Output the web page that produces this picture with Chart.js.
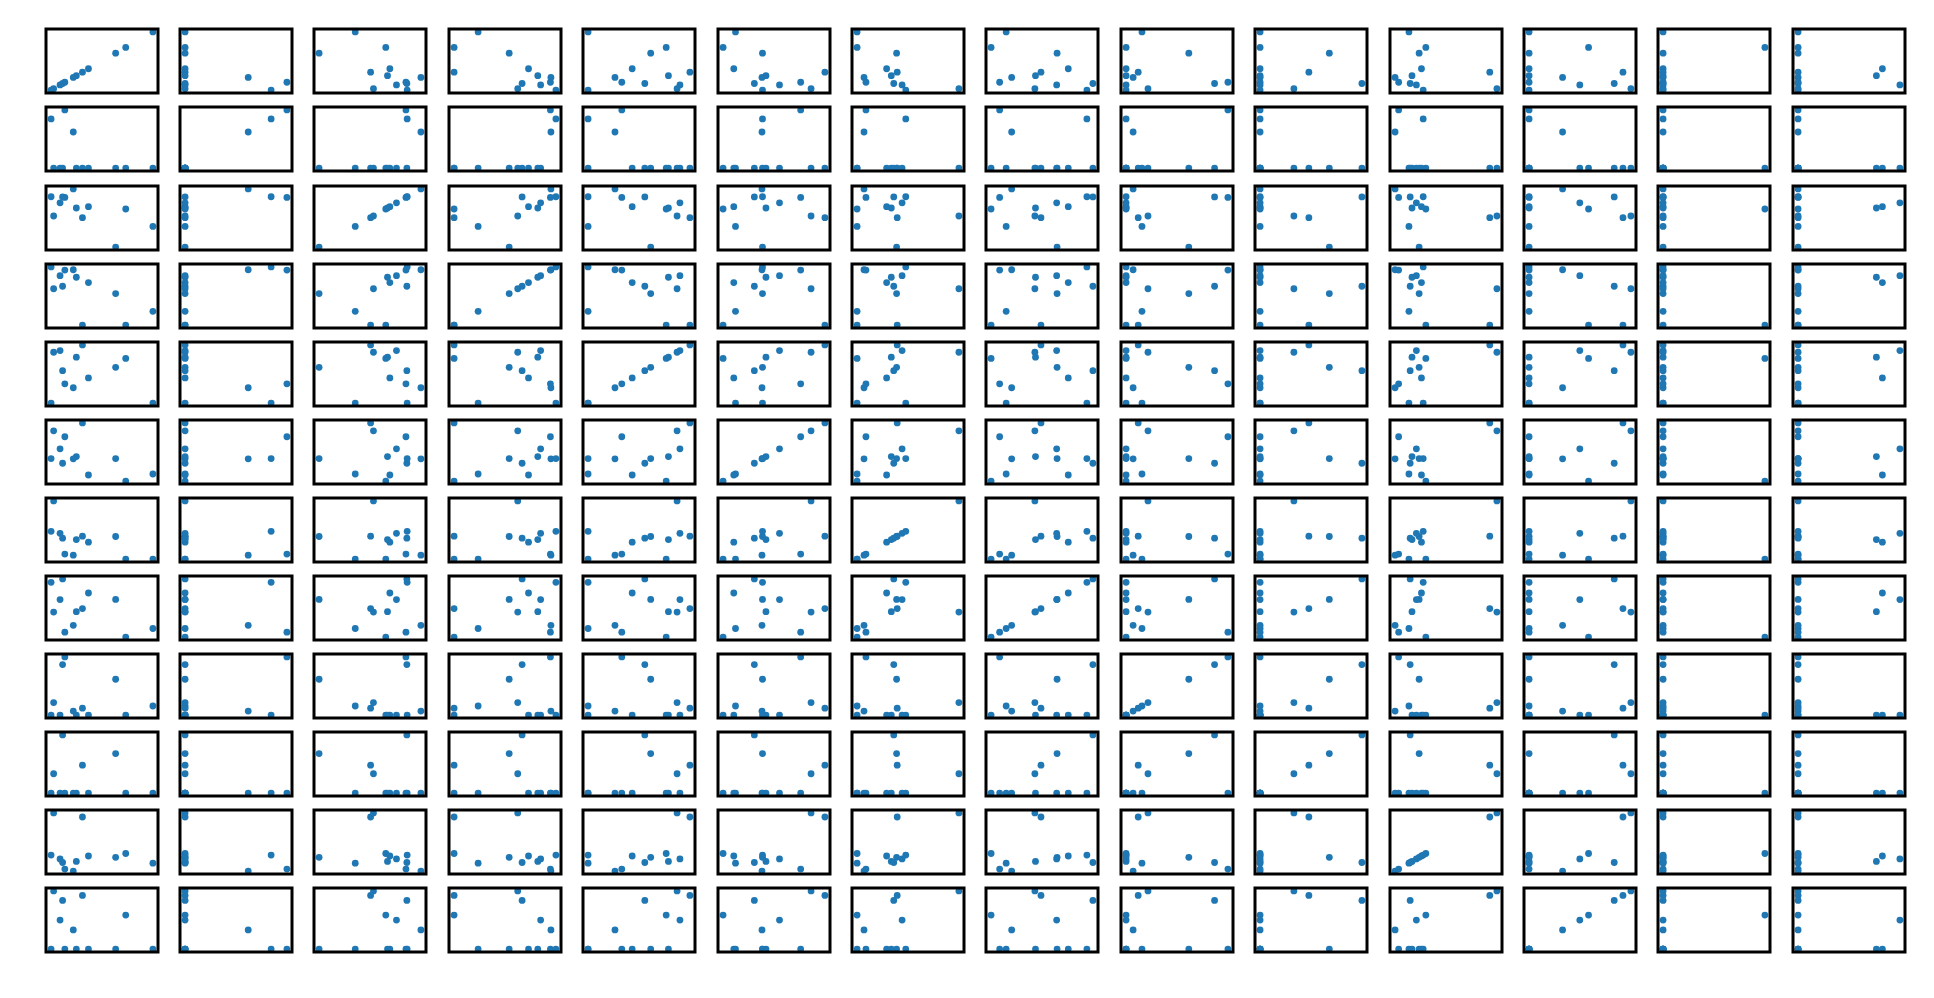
<!DOCTYPE html>
<html>
<head>
<meta charset="utf-8">
<script src="https://cdn.jsdelivr.net/npm/chart.js@4.4.1/dist/chart.umd.min.js"></script>
<style>
  html, body { margin: 0; padding: 0; background: #ffffff; overflow: hidden; }
  #wrap { position: relative; width: 1934px; height: 998px; background: #ffffff; }
  #wrap canvas { position: absolute; }
</style>
</head>
<body>
<div id="wrap"></div>
<script>
const v0  = [1.0, 0.733, 0.634, 0.367, 0.308, 0.248, 0.218, 0.135, 0.113, 0.088, 0.025, 0];
const v1  = [0, 0, 0, 0, 0, 0, 0.62, 1.0, 0, 0, 0, 0.845];
const v2  = [0.355, 0.655, 0, 0.695, 0.506, 0.672, 1.0, 0.853, 0.862, 0.76, 0.534, 0.865];
const v3  = [0.236, 0, 0.541, 0.731, 0, 0.822, 0.951, 0.946, 0.668, 0.85, 0.625, 1.0];
const v4  = [0, 0.767, 0.615, 0.433, 1.0, 0.789, 0.264, 0.331, 0.557, 0.902, 0.874, 0];
const v5  = [0.122, 0, 0.387, 0.105, 1.0, 0.421, 0.382, 0.762, 0.307, 0.554, 0.864, 0.387];
const v6  = [0, 0, 0.388, 0.29, 0.394, 0.336, 0.068, 0.087, 0.36, 0.442, 1.0, 0.478];
const v7  = [0.148, 0, 0.648, 0.758, 0.49, 0.436, 0.202, 0.084, 1.0, 0.644, 0.43, 0.941];
const v8  = [0.156, 0, 0.616, 0, 0.119, 0, 0.069, 1.0, 0.869, 0, 0.215, 0];
const v9  = [0, 0, 0.68, 0, 0.479, 0, 0, 0, 1.0, 0, 0.332, 0];
const v10 = [0.136, 0.302, 0.236, 0.259, 0.93, 0.166, 0, 0.035, 0.148, 0.209, 1.0, 0.276];
const v11 = [0, 0.584, 0, 0, 0.922, 0, 0.329, 0, 0.836, 0.498, 1.0, 0];
const v12 = [0, 1.0, 0, 0, 0, 0, 0, 0, 0, 0, 0, 0];
const v13 = [0, 0, 0, 0.828, 0, 0.769, 0, 0, 0, 1.0, 0, 0];

const colVars = [v0, v1, v2, v3, v4, v5, v6, v7, v8, v9, v10, v11, v12, v13]; // x variable per column
const rowVars = [v0, v1, v2, v3, v4, v5, v6, v7, v8, v9, v10, v11];           // y variable per row

// layout of the grid (pixels)
const GRID = { left: 45.5, top: 29.3, dx: 134.4, dy: 78.1, w: 112, h: 64 };
const PAD = 4;
const MARGIN = 0.05;            // relative padding of each axis range
const DOT = '#1f77b4';

function range(arr) {
  const lo = Math.min(...arr), hi = Math.max(...arr);
  const span = (hi - lo) || 1;
  return { min: lo - MARGIN * span, max: hi + MARGIN * span };
}

const framePlugin = {
  id: 'frame',
  afterDraw(chart) {
    const { ctx, chartArea: a } = chart;
    ctx.save();
    ctx.strokeStyle = '#000000';
    ctx.lineWidth = 3;
    ctx.strokeRect(a.left, a.top, a.right - a.left, a.bottom - a.top);
    ctx.restore();
  }
};

const wrap = document.getElementById('wrap');
rowVars.forEach((yv, i) => {
  colVars.forEach((xv, j) => {
    const c = document.createElement('canvas');
    const W = GRID.w + 2 * PAD, H = GRID.h + 2 * PAD;
    c.width = W; c.height = H;
    c.style.width = W + 'px'; c.style.height = H + 'px';
    c.style.left = (Math.round(GRID.left + GRID.dx * j) - PAD) + 'px';
    c.style.top = (Math.round(GRID.top + GRID.dy * i) - PAD) + 'px';
    wrap.appendChild(c);
    const xr = range(xv), yr = range(yv);
    new Chart(c, {
      type: 'scatter',
      data: {
        datasets: [{
          data: xv.map((x, k) => ({ x: x, y: yv[k] })),
          backgroundColor: DOT,
          borderColor: DOT,
          borderWidth: 0,
          pointRadius: 3.4,
          pointHoverRadius: 3.4
        }]
      },
      options: {
        responsive: false,
        animation: false,
        devicePixelRatio: 1,
        layout: { padding: PAD },
        plugins: { legend: { display: false }, tooltip: { enabled: false } },
        events: [],
        scales: {
          x: { type: 'linear', display: false, min: xr.min, max: xr.max },
          y: { type: 'linear', display: false, min: yr.min, max: yr.max }
        }
      },
      plugins: [framePlugin]
    });
  });
});
</script>
</body>
</html>
